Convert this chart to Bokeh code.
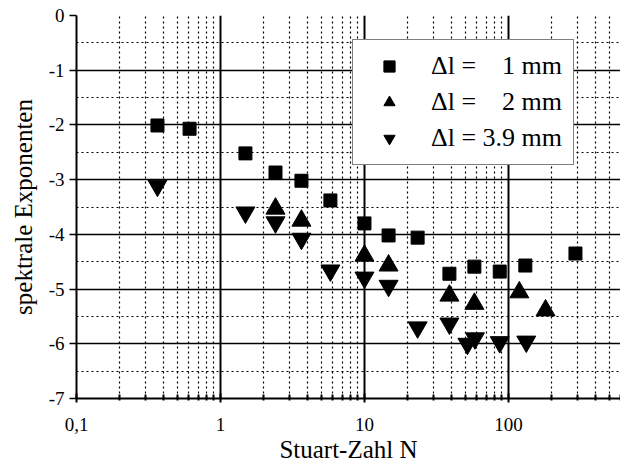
from bokeh.plotting import figure
from bokeh.models import FixedTicker, Legend, LegendItem, Range1d
from bokeh.embed import file_html
from bokeh.resources import INLINE

# Data
n_1mm = [0.365, 0.61, 1.49, 2.41, 3.65, 5.8, 10, 14.7, 23.4, 38.9, 58, 87, 131, 292]
e_1mm = [-2.01, -2.07, -2.52, -2.87, -3.02, -3.38, -3.80, -4.02, -4.06, -4.72, -4.59, -4.68, -4.57, -4.35]

n_2mm = [2.41, 3.65, 10, 14.7, 38.9, 58, 119, 181]
e_2mm = [-3.53, -3.75, -4.39, -4.57, -5.12, -5.27, -5.06, -5.39]

n_39mm = [0.365, 1.49, 2.41, 3.65, 5.8, 10, 14.7, 23.4, 38.9, 51.9, 58.5, 87, 133]
e_39mm = [-3.11, -3.60, -3.78, -4.08, -4.66, -4.79, -4.94, -5.70, -5.63, -6.00, -5.90, -5.97, -5.96]

x_ticks = [0.1, 1, 10, 100]
x_labels = {0.1: "0,1", 1: "1", 10: "10", 100: "100"}
x_minor = [m * d for d in [0.1, 1, 10, 100] for m in range(2, 10) if m * d <= 600]
y_ticks = [0, -1, -2, -3, -4, -5, -6, -7]
y_minor = [-0.5, -1.5, -2.5, -3.5, -4.5, -5.5, -6.5]

labels = ["\u0394l =    1 mm", "\u0394l =    2 mm", "\u0394l = 3.9 mm"]

FONT = "Liberation Serif"

p = figure(width=620, height=469, x_axis_type="log",
           x_range=Range1d(0.1, 600), y_range=Range1d(-7, 0),
           output_backend="svg", toolbar_location=None,
           min_border_left=76, min_border_right=0, min_border_top=15, min_border_bottom=71)
p.outline_line_color = None
p.background_fill_color = "white"
p.border_fill_color = "white"

p.xaxis.ticker = FixedTicker(ticks=x_ticks, minor_ticks=x_minor)
p.xaxis.major_label_overrides = x_labels
p.yaxis.ticker = FixedTicker(ticks=y_ticks, minor_ticks=y_minor)
p.yaxis.major_label_overrides = {t: str(t) for t in y_ticks}

for ax in (p.xaxis[0], p.yaxis[0]):
    ax.axis_line_width = 2
    ax.axis_line_color = "black"
    ax.major_tick_line_color = "black"
    ax.minor_tick_line_color = "black"
    ax.major_label_text_font = FONT
    ax.major_label_text_font_size = "19px"
    ax.major_label_text_color = "black"
    ax.axis_label_text_font = FONT
    ax.axis_label_text_font_size = "25px"
    ax.axis_label_text_font_style = "normal"
    ax.axis_label_text_color = "black"

p.xaxis.major_tick_in = 5
p.xaxis.major_tick_out = 4
p.xaxis.minor_tick_in = 4
p.xaxis.minor_tick_out = 2
p.xaxis.major_tick_line_width = 2
p.xaxis.minor_tick_line_width = 2
p.xaxis.major_label_standoff = 15
p.xaxis.axis_label = "Stuart-Zahl N"
p.xaxis.axis_label_standoff = 2

p.yaxis.major_tick_in = 0
p.yaxis.major_tick_out = 7
p.yaxis.minor_tick_in = 0
p.yaxis.minor_tick_out = 0
p.yaxis.major_tick_line_width = 1.5
p.yaxis.major_label_standoff = 5
p.yaxis.axis_label = "spektrale Exponenten"
p.yaxis.axis_label_standoff = 9

p.xgrid.grid_line_width = 2
p.ygrid.grid_line_width = 1.5
for g in (p.xgrid[0], p.ygrid[0]):
    g.grid_line_color = "black"
    g.grid_line_alpha = 1
    g.minor_grid_line_color = "black"
    g.minor_grid_line_dash = "2 3"
    g.minor_grid_line_width = 1.2

r1 = p.scatter(n_1mm, e_1mm, marker="square", size=13, color="black")
r2 = p.scatter(n_2mm, e_2mm, marker="triangle", size=19, color="black")
r3 = p.scatter(n_39mm, e_39mm, marker="inverted_triangle", size=19, color="black")

legend = Legend(items=[LegendItem(label=labels[0], renderers=[r1]),
                       LegendItem(label=labels[1], renderers=[r2]),
                       LegendItem(label=labels[2], renderers=[r3])],
                location=(276, 233))
legend.label_text_font = FONT
legend.label_text_font_size = "26px"
legend.label_text_color = "black"
legend.border_line_color = "black"
legend.border_line_width = 1.5
legend.background_fill_color = "white"
legend.background_fill_alpha = 1
legend.padding = 11
legend.spacing = 6
legend.glyph_width = 50
legend.glyph_height = 28
legend.label_standoff = 17
legend.margin = 0
p.add_layout(legend, "center")

open("out.html", "w").write(file_html(p, INLINE))
